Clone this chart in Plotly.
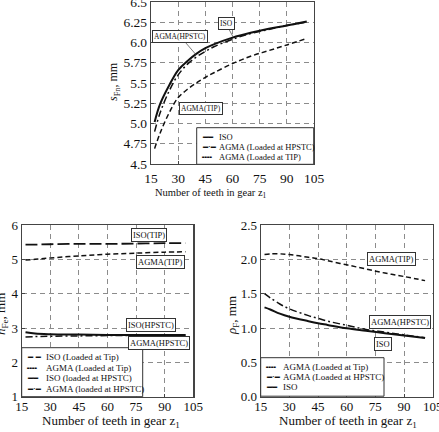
import plotly.graph_objects as go

W, H = 439, 432

# ---------------- data ----------------
x_ticks = [15, 30, 45, 60, 75, 90, 105]

# top chart: s_Fn
z_top = [17, 20, 25, 30, 35, 40, 45, 50, 60, 70, 80, 90, 101]
sfn_iso = [5.02, 5.24, 5.47, 5.66, 5.77, 5.86, 5.93, 5.98, 6.06, 6.12, 6.17, 6.21, 6.26]
sfn_agma_hpstc = [4.90, 5.13, 5.40, 5.60, 5.73, 5.82, 5.89, 5.95, 6.04, 6.11, 6.16, 6.21, 6.25]
sfn_agma_tip = [4.69, 4.88, 5.13, 5.32, 5.42, 5.50, 5.57, 5.63, 5.74, 5.83, 5.90, 5.97, 6.05]
top_y_ticks = [4.5, 4.75, 5.0, 5.25, 5.5, 5.75, 6.0, 6.25, 6.5]
top_y_labels = ["4.5", "4.75", "5.0", "5.25", "5.5", "5.75", "6.0", "6.25", "6.5"]
top_names = ["ISO", "AGMA (Loaded at HPSTC)", "AGMA (Loaded at TIP)"]

# bottom-left chart: h_Fe
z_bl = [17, 22, 30, 45, 60, 75, 90, 101]
hfe_iso_tip = [5.43, 5.43, 5.44, 5.45, 5.45, 5.46, 5.47, 5.47]
hfe_agma_tip = [4.98, 5.00, 5.04, 5.10, 5.15, 5.18, 5.21, 5.22]
hfe_iso_hpstc = [2.88, 2.84, 2.82, 2.81, 2.80, 2.80, 2.80, 2.80]
hfe_agma_hpstc = [2.74, 2.75, 2.76, 2.77, 2.78, 2.78, 2.79, 2.79]
bl_y_ticks = [1, 2, 3, 4, 5, 6]
bl_y_labels = ["1", "2", "3", "4", "5", "6"]
bl_names = ["ISO (Loaded at Tip)", "AGMA (Loaded at Tip)", "ISO (loaded at HPSTC)", "AGMA (loaded at HPSTC)"]

# bottom-right chart: rho_F
z_br = [17, 20, 25, 30, 40, 45, 50, 60, 70, 80, 90, 101]
rho_agma_tip = [2.07, 2.08, 2.08, 2.07, 2.03, 2.01, 1.98, 1.92, 1.86, 1.80, 1.75, 1.69]
rho_agma_hpstc = [1.50, 1.44, 1.35, 1.28, 1.18, 1.14, 1.10, 1.04, 0.98, 0.94, 0.90, 0.86]
rho_iso = [1.30, 1.27, 1.21, 1.165, 1.10, 1.07, 1.045, 0.995, 0.96, 0.925, 0.89, 0.855]
br_y_ticks = [0, 0.5, 1.0, 1.5, 2.0, 2.5]
br_y_labels = ["0.0", "0.5", "1.0", "1.5", "2.0", "2.5"]
br_names = ["AGMA (Loaded at Tip)", "AGMA (Loaded at HPSTC)", "ISO"]

# ---------------- styling ----------------
SERIF = "Liberation Serif"
INK = "#111111"
STYLES = {
    "solid": dict(dash="solid", width=2.0, sample="━━"),
    "dash": dict(dash="5px,3px", width=1.5, sample="╍╍"),
    "dashdot": dict(dash="7px,3px,2px,3px", width=1.5, sample="━·━"),
    "longdash": dict(dash="12px,4px", width=1.8, sample="━ ━"),
}


def PX(x):
    return x / W


def PY(y):
    return 1 - y / H


fig = go.Figure()


def add_line(z, v, name, style, xa, ya):
    st = STYLES[style]
    fig.add_trace(go.Scatter(
        x=z, y=v, name=name, mode="lines", line_shape="spline",
        line=dict(color=INK, width=st["width"], dash=st["dash"]),
        xaxis=xa, yaxis=ya, showlegend=False, hoverinfo="skip"))


add_line(z_top, sfn_iso, top_names[0], "solid", "x", "y")
add_line(z_top, sfn_agma_hpstc, top_names[1], "dashdot", "x", "y")
add_line(z_top, sfn_agma_tip, top_names[2], "dash", "x", "y")

add_line(z_bl, hfe_iso_tip, bl_names[0], "longdash", "x2", "y2")
add_line(z_bl, hfe_agma_tip, bl_names[1], "dash", "x2", "y2")
add_line(z_bl, hfe_iso_hpstc, bl_names[2], "solid", "x2", "y2")
add_line(z_bl, hfe_agma_hpstc, bl_names[3], "dashdot", "x2", "y2")

add_line(z_br, rho_agma_tip, br_names[0], "dash", "x3", "y3")
add_line(z_br, rho_agma_hpstc, br_names[1], "dashdot", "x3", "y3")
add_line(z_br, rho_iso, br_names[2], "solid", "x3", "y3")

axis_common = dict(
    showgrid=True, gridcolor="#8c8c8c", griddash="5px,4px", gridwidth=1,
    showline=True, linecolor="#444444", linewidth=1.2, mirror=True,
    ticks="inside", ticklen=3, tickcolor="#444444", zeroline=False,
    automargin=False, fixedrange=True, ticklabeloverflow="allow",
)


def xaxis(domain, size, standoff):
    return dict(axis_common, domain=domain, range=[15, 105], tickmode="array",
                tickvals=x_ticks, ticktext=[str(t) for t in x_ticks],
                ticklabelstandoff=standoff,
                tickfont=dict(family=SERIF, size=size, color=INK))


def yaxis(domain, rng, tv, tt, size):
    return dict(axis_common, domain=domain, range=rng, tickmode="array",
                tickvals=tv, ticktext=tt,
                tickfont=dict(family=SERIF, size=size, color=INK))


fig.update_layout(
    width=W, height=H, margin=dict(l=0, r=0, t=0, b=0),
    template="none", paper_bgcolor="white", plot_bgcolor="white",
    showlegend=False,
    xaxis=dict(xaxis([PX(151), PX(314)], 13.5, 2), anchor="y"),
    yaxis=dict(yaxis([PY(164), PY(2)], [4.5, 6.5], top_y_ticks, top_y_labels, 13.5), anchor="x"),
    xaxis2=dict(xaxis([PX(21.7), PX(193.3)], 13, -3), anchor="y2"),
    yaxis2=dict(yaxis([PY(396.7), PY(225)], [1, 6], bl_y_ticks, bl_y_labels, 13), anchor="x2"),
    xaxis3=dict(xaxis([PX(260.7), PX(432.7)], 13, -3), anchor="y3"),
    yaxis3=dict(yaxis([PY(396.7), PY(225)], [0, 2.5], br_y_ticks, br_y_labels, 13), anchor="x3"),
)

ann = []
shapes = []


def paper_text(text, x, y, size, angle=0, xanchor="center", yanchor="middle", family=SERIF):
    ann.append(dict(text=text, x=PX(x), y=PY(y), xref="paper", yref="paper",
                    xanchor=xanchor, yanchor=yanchor, textangle=angle, showarrow=False,
                    font=dict(family=family, size=size, color=INK)))


# axis titles
xtitle = "Number of teeth in gear z<sub>1</sub>"
paper_text(xtitle, 211, 193, 10.5)
paper_text(xtitle, 111, 421, 13)
paper_text(xtitle, 347.5, 421, 13)
paper_text("<i>s</i><sub>Fn</sub>, mm", 114, 82, 12, angle=-90)
paper_text("<i>h</i><sub>Fe</sub>, mm", 1, 314, 13, angle=-90)
paper_text("<i>ρ</i><sub>F</sub>, mm", 232, 316, 13, angle=-90)

# boxed curve labels
box = dict(bordercolor="#333333", borderwidth=1, borderpad=1, bgcolor="white")


def label(text, x, y, xr, yr, size, arrow=None):
    d = dict(box, text=text, x=x, y=y, xref=xr, yref=yr, xanchor="center", yanchor="middle",
             font=dict(family=SERIF, size=size, color=INK))
    if arrow:
        d.update(showarrow=True, arrowhead=0, arrowwidth=0.7, arrowcolor="#444444",
                 ax=arrow[0], ay=arrow[1])
    else:
        d.update(showarrow=False)
    ann.append(d)


label("ISO", 60.3, 6.07, "x", "y", 7.5, arrow=(-7, -13))
label("AGMA(HPSTC)", 40, 5.846, "x", "y", 7.5, arrow=(-16, -18.5))
label("AGMA(TIP)", 42.6, 5.19, "x", "y", 7.5)

label("ISO(TIP)", 81.9, 5.72, "x2", "y2", 8.5)
label("AGMA(TIP)", 88.0, 4.91, "x2", "y2", 8.5)
label("ISO(HPSTC)", 82.7, 3.09, "x2", "y2", 8.5)
label("AGMA(HPSTC)", 86.9, 2.56, "x2", "y2", 8.5)

label("AGMA(TIP)", 83.3, 2.003, "x3", "y3", 8.5)
label("AGMA(HPSTC)", 88.0, 1.082, "x3", "y3", 8.5)
label("ISO", 78.9, 0.768, "x3", "y3", 8.5)


# legends: framed box with line-sample glyphs and names
def legend(left, top, w, h, rows, names, styles, sample_x, text_x, size):
    shapes.append(dict(type="rect", xref="paper", yref="paper",
                       x0=PX(left), x1=PX(left + w), y0=PY(top + h), y1=PY(top),
                       line=dict(color="#333333", width=1), fillcolor="white", layer="above"))
    for ry, nm, stl in zip(rows, names, styles):
        paper_text(STYLES[stl]["sample"], sample_x, ry, 8.5, xanchor="left", family="DejaVu Sans")
        paper_text(nm, text_x, ry, size, xanchor="left")


legend(196.7, 127.7, 117, 36.6, [136.7, 146.7, 156.7], top_names,
       ["solid", "dashdot", "dash"], 200, 217, 8.5)
legend(21.7, 347.7, 121, 49, [357, 367.5, 378, 388.5], bl_names,
       ["longdash", "dash", "solid", "dashdot"], 25, 44, 9)
legend(260.7, 357.7, 123.3, 38.5, [366.7, 376.7, 386.7], br_names,
       ["dash", "dashdot", "solid"], 264, 281, 9)

fig.update_layout(annotations=ann, shapes=shapes)

fig.write_html("out.html", include_plotlyjs=True, full_html=True,
               config=dict(displayModeBar=False, staticPlot=True))
